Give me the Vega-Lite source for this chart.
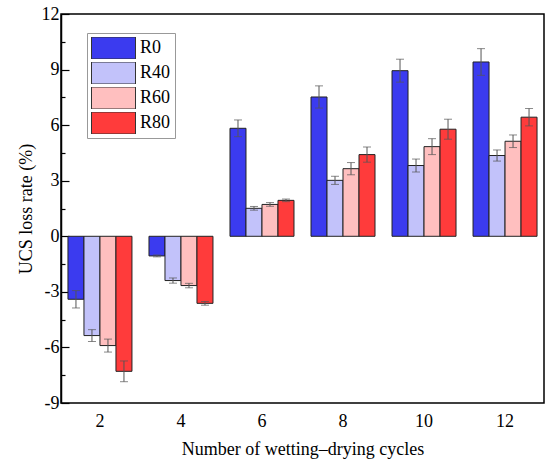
{
  "$schema": "https://vega.github.io/schema/vega-lite/v6.json",
  "width": 483,
  "height": 389,
  "autosize": {"type": "none"},
  "padding": {"left": 61, "top": 14, "right": 6, "bottom": 66},
  "background": "white",
  "config": {
    "font": "Liberation Serif",
    "view": {"stroke": "black", "strokeWidth": 1.5},
    "axis": {"domainColor": "black", "domainWidth": 1.5, "tickColor": "black", "tickWidth": 1.2, "labelColor": "black", "titleColor": "black", "labelFontSize": 18, "titleFontSize": 18, "titleFontWeight": "normal", "grid": false}
  },
  "data": {
    "values": [
      {"cycle": 2, "group": "R0", "value": -3.40, "lo": -3.87, "hi": -2.93},
      {"cycle": 2, "group": "R40", "value": -5.36, "lo": -5.68, "hi": -5.04},
      {"cycle": 2, "group": "R60", "value": -5.90, "lo": -6.25, "hi": -5.55},
      {"cycle": 2, "group": "R80", "value": -7.29, "lo": -7.85, "hi": -6.73},
      {"cycle": 4, "group": "R0", "value": -1.06, "lo": -1.11, "hi": -1.01},
      {"cycle": 4, "group": "R40", "value": -2.39, "lo": -2.53, "hi": -2.25},
      {"cycle": 4, "group": "R60", "value": -2.66, "lo": -2.78, "hi": -2.54},
      {"cycle": 4, "group": "R80", "value": -3.62, "lo": -3.72, "hi": -3.52},
      {"cycle": 6, "group": "R0", "value": 5.83, "lo": 5.38, "hi": 6.28},
      {"cycle": 6, "group": "R40", "value": 1.51, "lo": 1.41, "hi": 1.61},
      {"cycle": 6, "group": "R60", "value": 1.72, "lo": 1.62, "hi": 1.82},
      {"cycle": 6, "group": "R80", "value": 1.94, "lo": 1.87, "hi": 2.01},
      {"cycle": 8, "group": "R0", "value": 7.52, "lo": 6.92, "hi": 8.12},
      {"cycle": 8, "group": "R40", "value": 3.02, "lo": 2.80, "hi": 3.24},
      {"cycle": 8, "group": "R60", "value": 3.65, "lo": 3.32, "hi": 3.98},
      {"cycle": 8, "group": "R80", "value": 4.41, "lo": 4.00, "hi": 4.82},
      {"cycle": 10, "group": "R0", "value": 8.94, "lo": 8.32, "hi": 9.56},
      {"cycle": 10, "group": "R40", "value": 3.82, "lo": 3.47, "hi": 4.17},
      {"cycle": 10, "group": "R60", "value": 4.84, "lo": 4.41, "hi": 5.27},
      {"cycle": 10, "group": "R80", "value": 5.78, "lo": 5.24, "hi": 6.32},
      {"cycle": 12, "group": "R0", "value": 9.41, "lo": 8.69, "hi": 10.13},
      {"cycle": 12, "group": "R40", "value": 4.36, "lo": 4.06, "hi": 4.66},
      {"cycle": 12, "group": "R60", "value": 5.13, "lo": 4.79, "hi": 5.47},
      {"cycle": 12, "group": "R80", "value": 6.43, "lo": 5.96, "hi": 6.90}
    ]
  },
  "encoding": {
    "x": {
      "field": "cycle",
      "type": "ordinal",
      "title": "Number of wetting\u2013drying cycles",
      "scale": {"paddingInner": 0.21, "paddingOuter": 0.086},
      "axis": {"labelAngle": 0, "ticks": false, "domain": false, "labelPadding": 9, "titlePadding": 10, "labelFont": "'Liberation Serif', serif"}
    },
    "xOffset": {
      "field": "group",
      "type": "nominal",
      "sort": ["R0", "R40", "R60", "R80"],
      "scale": {"paddingInner": 0, "paddingOuter": 0}
    }
  },
  "layer": [
    {
      "mark": {"type": "bar", "stroke": "#222", "strokeWidth": 1},
      "encoding": {
        "y": {
          "field": "value",
          "type": "quantitative",
          "title": "UCS loss rate (%)",
          "scale": {"domain": [-9, 12], "nice": false, "zero": false},
          "axis": {
            "values": [-9, -6, -3, 0, 3, 6, 9, 12],
            "labelExpr": "toString(datum.value)",
            "labelFont": "'Liberation Serif', serif",
            "tickSize": -8,
            "labelPadding": 10,
            "titlePadding": 6
          }
        },
        "color": {
          "field": "group",
          "type": "nominal",
          "sort": ["R0", "R40", "R60", "R80"],
          "scale": {"domain": ["R0", "R40", "R60", "R80"], "range": ["#3b3bef", "#c2c2fa", "#ffbfbf", "#ff3b3b"]},
          "legend": {
            "title": null,
            "orient": "none",
            "legendX": 26,
            "legendY": 19,
            "padding": 4,
            "strokeColor": "#999",
            "fillColor": "white",
            "symbolType": "M-1,-0.5H1V0.5H-1Z",
            "symbolSize": 1936,
            "symbolStrokeColor": "#333",
            "symbolStrokeWidth": 1,
            "symbolOpacity": 1,
            "clipHeight": 22,
            "rowPadding": 3,
            "labelFont": "'Liberation Serif', serif",
            "labelFontSize": 18,
            "labelOffset": 4,
            "labelColor": "black"
          }
        }
      }
    },
    {
      "mark": {"type": "rule", "color": "#555", "strokeWidth": 1},
      "encoding": {
        "y": {
          "field": "lo",
          "type": "quantitative",
          "axis": {
            "orient": "left",
            "values": [-7.5, -4.5, -1.5, 1.5, 4.5, 7.5, 10.5],
            "labels": false,
            "domain": false,
            "title": null,
            "tickSize": -4
          }
        },
        "y2": {"field": "hi"}
      }
    },
    {
      "mark": {"type": "tick", "color": "#555", "thickness": 1, "size": 8, "orient": "horizontal"},
      "encoding": {"y": {"field": "lo", "type": "quantitative", "axis": null}}
    },
    {
      "mark": {"type": "tick", "color": "#555", "thickness": 1, "size": 8, "orient": "horizontal"},
      "encoding": {"y": {"field": "hi", "type": "quantitative", "axis": null}}
    },
    {
      "mark": {"type": "rule", "color": "black", "strokeWidth": 1.5},
      "encoding": {"y": {"datum": 0, "axis": null}}
    }
  ],
  "resolve": {"axis": {"y": "independent"}}
}
